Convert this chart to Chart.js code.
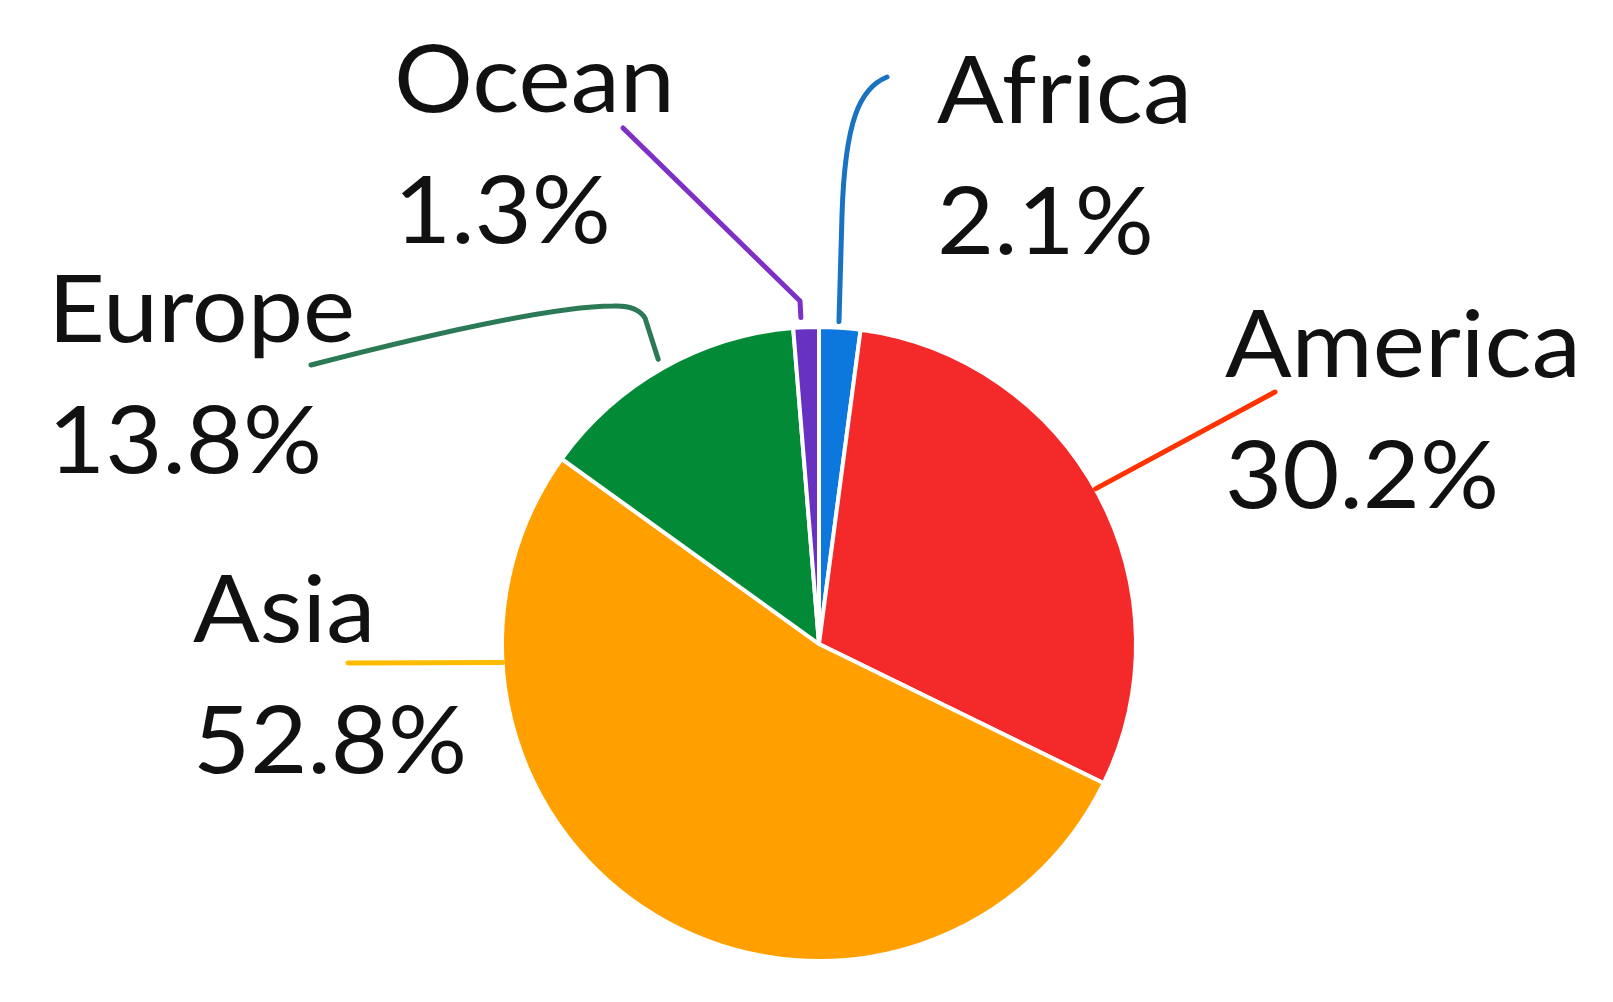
<!DOCTYPE html>
<html>
<head>
<meta charset="utf-8">
<title>Share by continent</title>
<script src="https://cdn.jsdelivr.net/npm/chart.js@4/dist/chart.umd.min.js"></script>
<style>
    html, body { margin: 0; padding: 0; background: #ffffff; }
    canvas { display: block; }
</style>
</head>
<body>
<canvas id="graph" width="1613" height="1002"></canvas>
<script>
// data (percent)
var labels = ['Africa', 'America', 'Asia', 'Europe', 'Ocean'];
var values = [2.1, 30.2, 52.8, 13.8, 1.3];
var sliceColors = ['#0c77dc', '#f42a2a', '#ffa000', '#038a36', '#6732c2'];
var lineColors = ['#1a73c2', '#ff3300', '#ffbb00', '#2b7a55', '#7d2fc6'];

// where each label and its leader line go (layout only)
var labelLayout = [
    { x: 937, y: 123, frac: 0.47, gap: 6,  path: [['L', 842, 215], ['C', 845, 120, 860, 88, 887, 77]] },
    { x: 1225, y: 377, frac: 0.49, gap: 0,  path: [['L', 1275, 392]] },
    { x: 193, y: 642, frac: 0.794, gap: 0, path: [['L', 348, 663]] },
    { x: 48,  y: 342, frac: 0.50, gap: 10, path: [['L', 645, 318], ['Q', 637, 305, 613, 306], ['Q', 540, 306, 311, 365]] },
    { x: 394, y: 112, frac: 0.32, gap: 10, path: [['L', 800, 301], ['L', 623, 128]] }
];
var lineHeight = 131;
var labelFont = '94px Lato, "Open Sans", sans-serif';
var textStretch = 1.05; // the original lettering is a bit wider than Lato

// draws the two line labels with their leader lines
var leaderLabels = {
    id: 'leaderLabels',
    afterDatasetsDraw: function(chart) {
        var ctx = chart.ctx;
        var meta = chart.getDatasetMeta(0);
        ctx.save();
        for (var i = 0; i < meta.data.length; i++) {
            var arc = meta.data[i].getProps(['x', 'y', 'startAngle', 'endAngle', 'outerRadius'], true);
            var lay = labelLayout[i];
            var a = arc.startAngle + lay.frac * (arc.endAngle - arc.startAngle);
            var r = arc.outerRadius + lay.gap;
            var sx = arc.x + r * Math.cos(a);
            var sy = arc.y + r * Math.sin(a);

            ctx.beginPath();
            ctx.moveTo(sx, sy);
            for (var j = 0; j < lay.path.length; j++) {
                var p = lay.path[j];
                if (p[0] === 'L') ctx.lineTo(p[1], p[2]);
                else if (p[0] === 'Q') ctx.quadraticCurveTo(p[1], p[2], p[3], p[4]);
                else if (p[0] === 'C') ctx.bezierCurveTo(p[1], p[2], p[3], p[4], p[5], p[6]);
            }
            ctx.strokeStyle = lineColors[i];
            ctx.lineWidth = 5;
            ctx.lineJoin = 'round';
            ctx.lineCap = 'round';
            ctx.stroke();

            ctx.save();
            ctx.translate(lay.x, 0);
            ctx.scale(textStretch, 1);
            ctx.fillStyle = '#111111';
            ctx.font = labelFont;
            ctx.textAlign = 'left';
            ctx.textBaseline = 'alphabetic';
            ctx.fillText(labels[i], 0, lay.y);
            ctx.fillText(values[i].toFixed(1) + '%', 0, lay.y + lineHeight);
            ctx.restore();
        }
        ctx.restore();
    }
};

var ctx = document.getElementById('graph');
var chart = new Chart(ctx, {
    type: 'pie',
    data: {
        labels: labels,
        datasets: [{
            data: values,
            backgroundColor: sliceColors,
            borderColor: '#ffffff',
            borderWidth: 4
        }]
    },
    options: {
        responsive: false,
        animation: false,
        events: [],
        layout: {
            padding: { top: 325, bottom: 39, left: 419, right: 394 }
        },
        plugins: {
            legend: { display: false },
            tooltip: { enabled: false }
        }
    },
    plugins: [leaderLabels]
});
</script>
</body>
</html>
